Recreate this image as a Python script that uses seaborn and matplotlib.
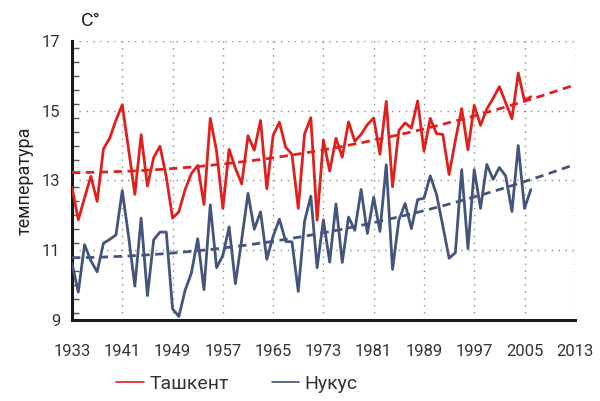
import numpy as np
import pandas as pd
import matplotlib
matplotlib.use("Agg")
import matplotlib.pyplot as plt
import seaborn as sns
from matplotlib.ticker import MultipleLocator
from matplotlib.lines import Line2D

# yearly mean temperature, 1933-2006
years = list(range(1933, 2007))
tashkent = [12.8, 11.87, 12.5, 13.12, 12.4, 13.9, 14.21, 14.73, 15.17, 13.9,
            12.6, 14.31, 12.84, 13.66, 13.98, 13.1, 11.92, 12.1, 12.74, 13.2,
            13.43, 12.31, 14.78, 13.85, 12.2, 13.89, 13.35, 12.9, 14.28, 13.87,
            14.72, 12.76, 14.29, 14.67, 13.95, 13.75, 12.2, 14.33, 14.8, 11.86,
            14.16, 13.27, 14.21, 13.67, 14.68, 14.12, 14.32, 14.6, 14.79, 13.75,
            15.27, 12.82, 14.43, 14.65, 14.5, 15.28, 13.84, 14.78, 14.34, 14.32,
            13.17, 14.15, 15.06, 13.88, 15.15, 14.58, 15.05, 15.35, 15.69, 15.23,
            14.77, 16.08, 15.28, 15.4]
nukus = [10.62, 9.8, 11.16, 10.7, 10.38, 11.2, 11.31, 11.44, 12.71, 11.4,
         9.97, 11.92, 9.7, 11.3, 11.52, 11.52, 9.32, 9.1, 9.85, 10.35,
         11.33, 9.87, 12.3, 10.5, 10.85, 11.67, 10.04, 11.3, 12.63, 11.6,
         12.1, 10.74, 11.4, 11.89, 11.25, 11.24, 9.82, 11.83, 12.55, 10.5,
         11.87, 10.66, 12.33, 10.65, 11.95, 11.57, 12.74, 11.48, 12.52, 11.54,
         13.45, 10.45, 11.86, 12.34, 11.62, 12.45, 12.49, 13.13, 12.6, 11.7,
         10.77, 10.93, 13.31, 11.05, 13.31, 12.2, 13.46, 13.03, 13.37, 13.13,
         12.11, 14.0, 12.2, 12.74]
cities = ["Ташкент", "Нукус"]
colors = ["#e0201c", "#43557c"]
x_ticks = list(range(1933, 2014, 8))
y_ticks = [9, 11, 13, 15, 17]

sns.set_style("white")
plt.rcParams["font.family"] = ["Roboto", "DejaVu Sans"]

fig = plt.figure(figsize=(6, 4.01), dpi=100)
ax = fig.add_axes([0.12, 0.202, 0.838, 0.696])

n = len(years)
df = pd.DataFrame({
    "year": years * 2,
    "temp": tashkent + nukus,
    "city": [cities[0]] * n + [cities[1]] * n,
})
sns.lineplot(data=df, x="year", y="temp", hue="city", hue_order=cities,
             palette=colors, linewidth=2.0, legend=False, ax=ax, zorder=3)

# polynomial trend (order 2), extended forward to 2013
x_fit = np.array(years) - 1933
x_line = np.linspace(0, 2013 - 1933, 200)
for vals, c in zip([tashkent, nukus], colors):
    coef = np.polyfit(x_fit, vals, 2)
    ax.plot(x_line + 1933, np.polyval(coef, x_line), color=c, lw=2.0,
            ls=(0, (3, 2)), zorder=4)

ax.set_xlim(1933, 2013)
ax.set_ylim(9, 17)
ax.set_xticks(x_ticks)
ax.set_yticks(y_ticks)
ax.yaxis.set_minor_locator(MultipleLocator(0.4))
ax.grid(True, which="major", color="#8a8a8a", linestyle=(0, (1, 4)), linewidth=1)
sns.despine(ax=ax)
for s in ["left", "bottom"]:
    ax.spines[s].set_linewidth(2.2)
    ax.spines[s].set_color("#1a1a1a")
ax.tick_params(axis="both", which="major", direction="inout", length=9,
               width=2, color="#1a1a1a", labelsize=12, labelcolor="#333333")
ax.tick_params(axis="x", pad=13)
ax.tick_params(axis="y", pad=4)
ax.tick_params(axis="y", which="minor", direction="in", length=5, width=1,
               color="#555555", left=True)
ax.set_xlabel("")
ax.set_ylabel("температура", fontsize=13, color="#222222", labelpad=6)
fig.text(0.135, 0.935, "C°", fontsize=14, color="#222222")

handles = [Line2D([], [], color=c, lw=1.2) for c in colors]
fig.legend(handles, cities, loc="center", bbox_to_anchor=(0.395, 0.042),
           ncol=2, frameon=False, fontsize=14, handlelength=1.4,
           handletextpad=0.3, columnspacing=2.2, labelcolor="#333333")

fig.savefig("out.png", dpi=100)
